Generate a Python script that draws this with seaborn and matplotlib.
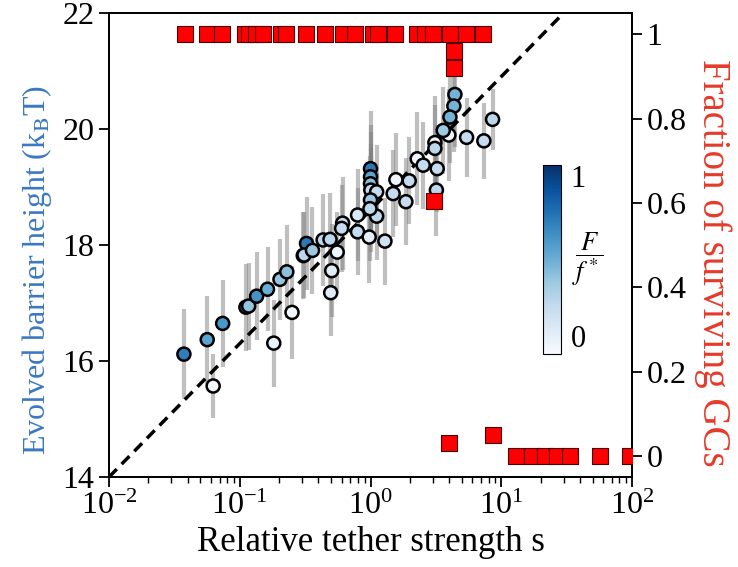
import numpy as np
import pandas as pd
import matplotlib
matplotlib.use("Agg")
import matplotlib.pyplot as plt
import seaborn as sns
from matplotlib.colors import Normalize
from matplotlib.cm import ScalarMappable

# ---------------- data ----------------
# evolved barrier heights (circles), coloured by F/f*
tether_s = [0.0374, 0.0564, 0.0740, 0.0626, 0.1114, 0.117, 0.1346, 0.163, 0.203, 0.229,
            0.306, 0.182, 0.251, 0.324, 0.310, 0.360, 0.434, 0.490, 0.556, 0.612,
            0.601, 0.505, 0.496, 0.796, 0.796, 0.977, 1.289, 1.114, 1.0, 1.0,
            1.0, 1.005, 1.114, 1.0, 0.99, 1.49, 1.564, 1.865, 1.977, 2.276,
            2.529, 3.107, 3.107, 3.236, 3.19, 3.975, 5.43, 4.42, 4.34, 4.05,
            3.60, 7.36, 8.58]
barrier = [16.12, 16.37, 16.65, 15.57, 16.93, 16.95, 17.12, 17.24, 17.41, 17.54,
           17.82, 16.31, 16.84, 18.03, 17.83, 17.91, 18.09, 18.10, 17.88, 18.38,
           18.29, 17.56, 17.18, 18.52, 18.23, 18.14, 18.07, 18.50, 19.32, 19.18,
           19.06, 18.95, 18.92, 18.78, 18.63, 18.89, 19.13, 18.75, 19.11, 19.49,
           19.38, 19.77, 19.67, 19.32, 18.95, 19.90, 19.86, 20.60, 20.40, 20.21,
           19.98, 19.80, 20.17]
barrier_err = [0.78, 0.76, 0.75, 0.55, 0.75, 0.75, 0.76, 0.72, 0.70, 0.80,
               0.75, 0.75, 0.80, 0.80, 0.75, 0.75, 0.80, 0.80, 0.70, 0.80,
               0.75, 0.80, 0.75, 0.80, 0.75, 0.80, 0.75, 0.75, 1.00, 0.90,
               0.90, 0.80, 0.80, 0.90, 0.90, 0.75, 0.80, 0.75, 0.75, 0.80,
               0.75, 0.80, 0.75, 0.75, 0.80, 0.80, 0.68, 0.90, 0.80, 0.80,
               0.75, 0.66, 0.53]
force_ratio = [0.70, 0.55, 0.60, 0.03, 0.68, 0.40, 0.62, 0.50, 0.40, 0.42,
               0.28, 0.08, 0.03, 0.72, 0.28, 0.38, 0.28, 0.28, 0.05, 0.22,
               0.25, 0.12, 0.12, 0.15, 0.25, 0.10, 0.20, 0.28, 0.72, 0.55,
               0.42, 0.25, 0.25, 0.38, 0.28, 0.25, 0.05, 0.25, 0.25, 0.05,
               0.25, 0.05, 0.28, 0.25, 0.28, 0.03, 0.25, 0.48, 0.48, 0.48,
               0.38, 0.25, 0.28]

# fraction of surviving GCs (red squares, right axis)
frac_s = [0.0379, 0.0564, 0.0735, 0.1096, 0.1167, 0.1337, 0.1505, 0.2055, 0.2266, 0.322,
          0.446, 0.615, 0.756, 1.043, 1.139, 1.545, 2.26, 2.63, 3.01, 4.03,
          5.41, 7.26, 4.36, 4.36, 3.08, 4.01, 8.63, 12.9, 17.3, 21.5,
          26.9, 33.5, 57.4, 96.2]
frac_surv = [1, 1, 1, 1, 1, 1, 1, 1, 1, 1,
             1, 1, 1, 1, 1, 1, 1, 1, 1, 1,
             1, 1, 0.96, 0.92, 0.604, 0.031, 0.05, 0, 0, 0,
             0, 0, 0, 0]

# theory line: barrier = 14 + ln(s / 0.01)
line_s = [0.01, 100.0]
line_ref_s = 0.01
line_ref_barrier = 14.0

x_ticks = [0.01, 0.1, 1, 10, 100]
y_ticks = [14, 16, 18, 20, 22]
frac_ticks = [0, 0.2, 0.4, 0.6, 0.8, 1]
frac_labels = ["0", "0.2", "0.4", "0.6", "0.8", "1"]

df = pd.DataFrame({"s": tether_s, "barrier": barrier, "err": barrier_err, "F": force_ratio})
df_frac = pd.DataFrame({"s": frac_s, "frac": frac_surv})

# ---------------- style ----------------
sns.set_theme(style="ticks")
plt.rcParams["font.family"] = ["Liberation Serif", "DejaVu Serif"]
plt.rcParams["mathtext.fontset"] = "stix"
plt.rcParams["axes.linewidth"] = 1.3
for key in ["text.color", "axes.labelcolor", "xtick.color", "ytick.color", "axes.edgecolor"]:
    plt.rcParams[key] = "black"

blue_label = "#3b78c2"
red_label = "#e53a2a"

fig = plt.figure(figsize=(7.38, 5.67), dpi=100)
ax = fig.add_axes([0.1477, 0.1587, 0.7087, 0.8178])

# error bars
ax.errorbar(df["s"], df["barrier"], yerr=df["err"], fmt="none", ecolor="gray",
            alpha=0.5, elinewidth=3, capsize=0, zorder=1)

# theory dashed line
ls = np.geomspace(line_s[0], line_s[1], 50)
ax.plot(ls, line_ref_barrier + np.log(ls / line_ref_s), color="black", lw=2.5,
        dashes=(3.2, 2.0), zorder=2)

sns.scatterplot(data=df, x="s", y="barrier", hue="F", palette="Blues", hue_norm=(0, 1),
                s=88, edgecolor="black", linewidth=1.8, legend=False, ax=ax, zorder=3)

ax.set_xscale("log")
ax.set_xlim(0.01, 100)
ax.set_ylim(14, 22)
ax.set_xticks(x_ticks)
ax.set_yticks(y_ticks)
ax.tick_params(axis="both", which="major", direction="out", length=7, width=1.3,
               labelsize=23, colors="black")
ax.tick_params(axis="x", which="minor", direction="out", length=4, width=1.0)
ax.set_xlabel("Relative tether strength s", fontsize=25)
ax.set_ylabel(r"Evolved barrier height (k$_\mathrm{B}$T)", fontsize=23, color=blue_label,
              va="center")
ax.yaxis.set_label_coords(-0.138, 0.446)
for sp in ax.spines.values():
    sp.set_color("black")
    sp.set_linewidth(1.3)

# right axis
ax2 = ax.twinx()
sns.scatterplot(data=df_frac, x="s", y="frac", marker="s", color="#ff0000", s=137,
                edgecolor="#4a0000", linewidth=0.8, legend=False, ax=ax2, zorder=4)
ax2.set_xscale("log")
ax2.set_xlim(0.01, 100)
ax2.set_ylim(-0.05, 1.05)
ax2.set_yticks(frac_ticks)
ax2.set_yticklabels(frac_labels)
ax2.tick_params(axis="y", direction="out", length=7, width=1.3, labelsize=23)
ax2.set_ylabel("Fraction of surviving GCs", fontsize=28, color=red_label,
               rotation=270, va="center")
ax2.yaxis.set_label_coords(1.155, 0.463)
for sp in ax2.spines.values():
    sp.set_color("black")
    sp.set_linewidth(1.3)

# colorbar
cax = fig.add_axes([0.7354, 0.3757, 0.0244, 0.3333])
sm = ScalarMappable(norm=Normalize(0, 1), cmap="Blues")
cbar = fig.colorbar(sm, cax=cax, ticks=[0, 1])
cbar.outline.set_linewidth(0.8)
cbar.ax.tick_params(length=0, labelsize=22, pad=7)
cbar.ax.set_yticklabels(["0", "1"])
ticks = cbar.ax.yaxis.get_major_ticks()
ticks[0].label2.set_va("bottom")
ticks[1].label2.set_va("top")
cax.text(1.6, 0.5, r"$\dfrac{F}{f^*}$", transform=cax.transAxes, fontsize=19,
         ha="left", va="center")

fig.savefig("out.png", dpi=100)
